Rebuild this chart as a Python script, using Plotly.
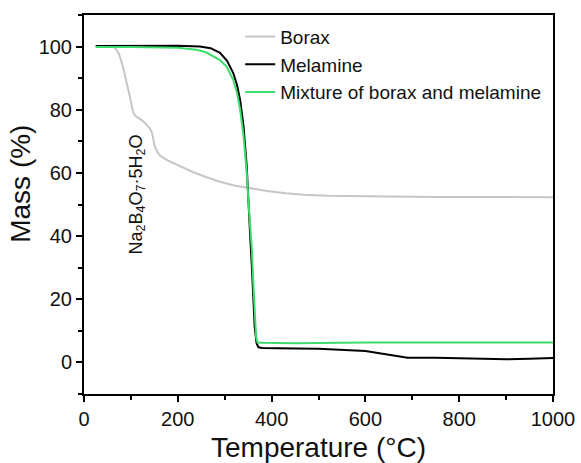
import plotly.graph_objects as go

# Borax
borax_T = [25, 45, 60, 66, 75, 83, 90, 98, 105, 110, 115, 125, 134, 140, 145, 151, 157, 162, 175, 190,
           210, 232, 260, 290, 320, 350, 390, 430, 470, 520, 580, 650, 750, 850, 1000]
borax_M = [100, 100, 99.9, 99.7, 97.5, 93.7, 89.5, 84, 79, 78, 77.5, 76.5, 75.2, 74.2, 72.7, 68.3, 66.5, 65.5, 64.2, 63.2,
           61.8, 60.3, 58.7, 57.2, 56, 55.2, 54.3, 53.6, 53.1, 52.8, 52.6, 52.5, 52.4, 52.3, 52.3]

# Melamine
mel_T = [25, 100, 200, 247, 270, 290, 305, 318, 326, 333, 340, 347, 351, 354, 358, 361, 364, 368, 372, 380,
         400, 450, 500, 560, 600, 640, 670, 690, 750, 850, 900, 950, 1000]
mel_M = [100.2, 100.3, 100.3, 100, 99.5, 98, 95.5, 91.7, 88, 83, 75, 62, 52, 41, 30, 19.7, 11, 6, 4.8, 4.6,
         4.5, 4.4, 4.3, 4.0, 3.6, 2.7, 1.9, 1.5, 1.5, 1.3, 1.0, 1.2, 1.4]

# Mixture of borax and melamine
mix_T = [25, 100, 200, 240, 260, 275, 290, 304, 318, 326, 333, 340, 347, 352, 358, 361, 364, 367, 370, 380,
         450, 600, 800, 1000]
mix_M = [99.9, 99.9, 99.6, 99, 98.2, 97, 95.7, 93.7, 89.5, 85.5, 80, 72, 60, 48, 35.6, 25, 14, 8, 6.3, 6.2,
         6.1, 6.3, 6.3, 6.3]

x_ticks = [0, 200, 400, 600, 800, 1000]
y_ticks = [0, 20, 40, 60, 80, 100]

FONT = "Liberation Sans, Arial, sans-serif"

fig = go.Figure()
fig.add_trace(go.Scatter(x=borax_T, y=borax_M, mode="lines", name="Borax",
                         line=dict(color="#c6c6c6", width=2)))
fig.add_trace(go.Scatter(x=mel_T, y=mel_M, mode="lines", name="Melamine",
                         line=dict(color="#000000", width=2)))
fig.add_trace(go.Scatter(x=mix_T, y=mix_M, mode="lines", name="Mixture of borax and melamine",
                         line=dict(color="#3ddc6c", width=2)))

fig.add_annotation(x=112, y=53, xref="x", yref="y",
                   text="Na<sub>2</sub>B<sub>4</sub>O<sub>7</sub>·5H<sub>2</sub>O",
                   textangle=-90, showarrow=False, font=dict(size=18, color="#111", family=FONT))

# y-axis title as annotation (placed slightly above centre, as in the reference)
fig.add_annotation(x=-0.137, y=0.554, xref="paper", yref="paper",
                   text="Mass (%)", textangle=-90, showarrow=False,
                   xanchor="center", yanchor="middle",
                   font=dict(size=28, color="#111", family=FONT))

axis_common = dict(showline=True, linewidth=2, linecolor="black", mirror=True,
                   ticks="outside", ticklen=6, tickwidth=2, tickcolor="black",
                   showgrid=False, zeroline=False, automargin=False,
                   tickfont=dict(size=20, color="#111", family=FONT),
                   title_font=dict(size=28, color="#111", family=FONT))

fig.update_xaxes(range=[0, 1000], tickvals=x_ticks,
                 title_text="Temperature (°C)", title_standoff=10,
                 minor=dict(tickvals=[100, 300, 500, 700, 900], ticks="outside", ticklen=4,
                            tickwidth=2, tickcolor="black"),
                 **axis_common)
fig.update_yaxes(range=[-10, 110], tickvals=y_ticks,
                 minor=dict(tickvals=[-10, 10, 30, 50, 70, 90, 110], ticks="outside", ticklen=4,
                            tickwidth=2, tickcolor="black"),
                 **axis_common)

fig.update_layout(width=581, height=463,
                  margin=dict(l=84, r=28, t=15, b=69),
                  plot_bgcolor="white", paper_bgcolor="white",
                  font=dict(family=FONT),
                  legend=dict(x=0.333, y=0.993, xanchor="left", yanchor="top",
                              bgcolor="rgba(0,0,0,0)", borderwidth=0,
                              font=dict(size=19, color="#111", family=FONT),
                              itemwidth=30, tracegroupgap=0))

fig.write_html("out.html")
